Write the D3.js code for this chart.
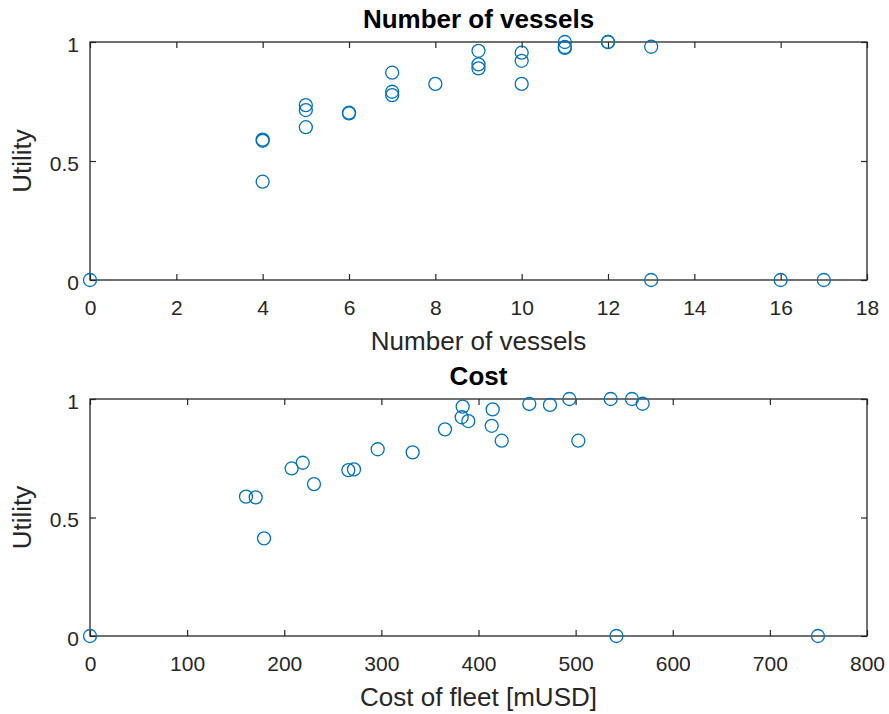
<!DOCTYPE html>
<html>
<head>
<meta charset="utf-8">
<script src="https://cdn.jsdelivr.net/npm/d3@7"></script>
<style>
  body { margin: 0; background: #fff; }
  svg { display: block; }
  .tick text { font-family: "Liberation Sans", Arial, sans-serif; font-size: 21px; fill: #262626; }
  .ttl { font-family: "Liberation Sans", Arial, sans-serif; font-size: 26px; font-weight: bold; fill: #000; }
  .lbl { font-family: "Liberation Sans", Arial, sans-serif; font-size: 26px; fill: #262626; }
</style>
</head>
<body>
<svg id="chart" width="889" height="714"></svg>
<script>
// top plot: number of vessels vs utility
const vessels = [0, 4, 4, 4, 5, 5, 5, 6, 6, 7, 7, 7, 8, 9, 9, 9, 10, 10, 10, 11, 11, 11, 12, 12, 13, 13, 16, 17];
const vesselUtil = [0, 0.59, 0.585, 0.413, 0.735, 0.714, 0.642, 0.70, 0.703, 0.871, 0.791, 0.777, 0.824,
                    0.963, 0.906, 0.889, 0.955, 0.921, 0.824, 1.0, 0.979, 0.975, 1.0, 1.0, 0.98, 0, 0, 0];

// bottom plot: fleet cost vs utility
const cost = [0, 160.6, 170.6, 179.2, 207.6, 219, 230.6, 266, 271.8, 296.2, 332.2, 365.5, 383.7, 382.7,
              389.5, 414.6, 413.6, 423.9, 452.3, 473.6, 493.5, 502.8, 536.1, 558, 569, 542, 749.5];
const costUtil = [0, 0.588, 0.585, 0.412, 0.707, 0.731, 0.641, 0.70, 0.703, 0.788, 0.775, 0.872, 0.968, 0.923,
                  0.907, 0.956, 0.887, 0.824, 0.979, 0.975, 1.0, 0.824, 1.0, 1.0, 0.98, 0, 0];

const vesselTicks = [0, 2, 4, 6, 8, 10, 12, 14, 16, 18];
const costTicks = [0, 100, 200, 300, 400, 500, 600, 700, 800];
const utilTicks = [0, 0.5, 1];

const svg = d3.select('#chart');
const left = 90, right = 867;
const tickLen = 6;
const axisColor = '#262626';
const markColor = '#0072BD';

function panel(cfg) {
    const x = d3.scaleLinear().domain(cfg.xDomain).range([left, right]);
    const y = d3.scaleLinear().domain([0, 1]).range([cfg.bottom, cfg.top]);
    const g = svg.append('g');

    const styleAxis = sel => {
        sel.select('.domain').remove();
        sel.selectAll('.tick line').attr('stroke', axisColor).attr('stroke-width', 1.2);
    };

    // bottom axis, ticks point inward
    g.append('g')
        .attr('transform', `translate(0,${cfg.bottom})`)
        .call(d3.axisBottom(x).tickValues(cfg.xTicks).tickSize(-tickLen).tickPadding(20).tickFormat(d3.format('d')))
        .call(styleAxis);
    // mirrored ticks on top
    g.append('g')
        .attr('transform', `translate(0,${cfg.top})`)
        .call(d3.axisTop(x).tickValues(cfg.xTicks).tickSize(-tickLen).tickFormat(''))
        .call(styleAxis);
    // left axis
    const yAxisG = g.append('g')
        .attr('transform', `translate(${left},0)`)
        .call(d3.axisLeft(y).tickValues(utilTicks).tickSize(-tickLen).tickPadding(11)
            .tickFormat(d => d === 0.5 ? '0.5' : d3.format('d')(d)))
        .call(styleAxis);
    yAxisG.selectAll('.tick text').attr('dy', '0.45em');
    // mirrored ticks on right
    g.append('g')
        .attr('transform', `translate(${right},0)`)
        .call(d3.axisRight(y).tickValues(utilTicks).tickSize(-tickLen).tickFormat(''))
        .call(styleAxis);

    g.append('rect')
        .attr('x', left).attr('y', cfg.top)
        .attr('width', right - left).attr('height', cfg.bottom - cfg.top)
        .attr('fill', 'none').attr('stroke', axisColor).attr('stroke-width', 1.3);

    g.selectAll('circle')
        .data(cfg.xs.map((v, i) => [v, cfg.ys[i]]))
        .enter()
      .append('circle')
        .attr('cx', d => x(d[0]))
        .attr('cy', d => y(d[1]))
        .attr('r', 6.5)
        .attr('fill', 'none')
        .attr('stroke', markColor)
        .attr('stroke-width', 1.3);

    g.append('text').attr('class', 'ttl')
        .attr('x', (left + right) / 2).attr('y', cfg.top - 14)
        .attr('text-anchor', 'middle').text(cfg.title);
    g.append('text').attr('class', 'lbl')
        .attr('x', (left + right) / 2).attr('y', cfg.bottom + 70)
        .attr('text-anchor', 'middle').text(cfg.xLabel);
    g.append('text').attr('class', 'lbl')
        .attr('transform', `translate(31,${(cfg.top + cfg.bottom) / 2}) rotate(-90)`)
        .attr('text-anchor', 'middle').text('Utility');
}

panel({ top: 42, bottom: 280, xDomain: [0, 18], xTicks: vesselTicks, xs: vessels, ys: vesselUtil,
        title: 'Number of vessels', xLabel: 'Number of vessels' });
panel({ top: 399, bottom: 636, xDomain: [0, 800], xTicks: costTicks, xs: cost, ys: costUtil,
        title: 'Cost', xLabel: 'Cost of fleet [mUSD]' });
</script>
</body>
</html>
